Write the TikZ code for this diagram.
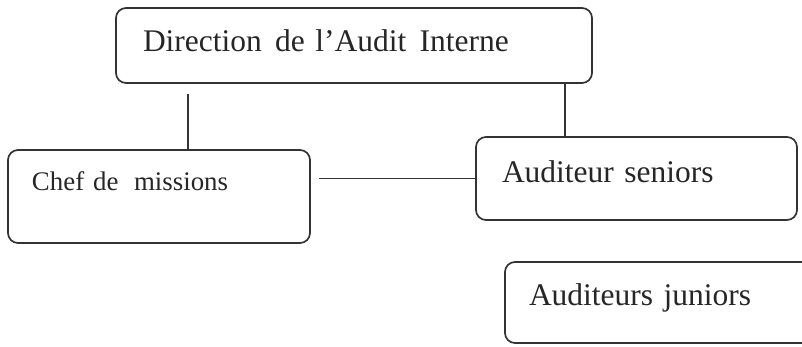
\documentclass[tikz,border=0pt]{standalone}
\usepackage{fontspec}
\setmainfont{Liberation Serif}
\usetikzlibrary{calc,positioning}

\begin{document}
\begin{tikzpicture}[orgbox/.style={draw=black!80, line width=1.2pt, rounded corners=0.25cm, inner ysep=0pt, align=left, text=black!85, font=\fontsize{22.4}{26}\selectfont}, link/.style={draw=black!80, line width=1.2pt}]
\useasboundingbox (0,0) rectangle (20.05,8.65);
\node[orgbox, minimum width=11.9cm, minimum height=1.875cm, inner xsep=0.675cm, text width=10.55cm, text height=0.5cm, text depth=0.225cm] (dir) at (8.85,7.5125) {Direction\hspace{0.42em}de l'Audit\hspace{0.42em}Interne};
\node[orgbox, minimum width=7.55cm, minimum height=2.325cm, inner xsep=0.6cm, text width=6.35cm, text height=0.4cm, text depth=0.725cm, font=\fontsize{19.1}{23}\selectfont] (chef) at (3.975,3.7375) {Chef de\hspace{0.58em}missions};
\node[orgbox, minimum width=8.025cm, minimum height=2.075cm, inner xsep=0.65cm, text width=6.725cm, text height=0.5cm, text depth=0.325cm] (sen) at (15.9125,4.1875) {Auditeur seniors};
\node[orgbox, minimum width=8cm, minimum height=2.025cm, inner xsep=0.6cm, text width=6.8cm, text height=0.5cm, text depth=0.375cm] (jun) at (16.625,1.0875) {Auditeurs juniors};
\coordinate (l1) at (4.7,0);
\coordinate (l2) at (14.125,0);
\draw[link, shorten <=0.25cm] (l1 |- dir.south) -- (l1 |- chef.north);
\draw[link] (l2 |- dir.south) -- (l2 |- sen.north);
\draw[link, shorten <=0.2cm] (chef.east |- sen.west) -- (sen.west);
\end{tikzpicture}
\end{document}
